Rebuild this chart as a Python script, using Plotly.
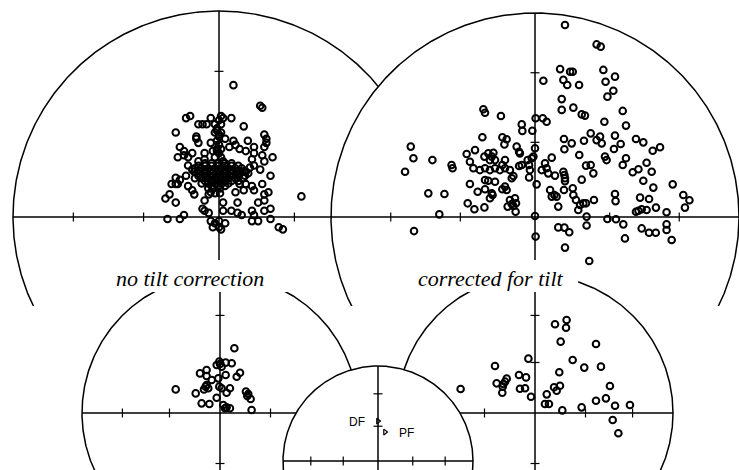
import numpy as np
import plotly.graph_objects as go

W, H = 739, 470

# Equal-area net: tick marks at these inclinations (degrees)
tick_incl = [60, 30]

# Directions, as equal-area (east, north) coordinates, primitive radius = 1
tl_points = [
    (0.07, 0.64), (0.20, 0.54), (0.21, 0.53), (-0.16, 0.48), (-0.14, 0.49), (-0.04, 0.48), (0.01, 0.49),
    (0.02, 0.48), (0.06, 0.48), (-0.10, 0.45), (-0.08, 0.45), (-0.06, 0.45), (0.12, 0.44), (-0.21, 0.41),
    (-0.01, 0.42), (0.00, 0.40), (-0.01, 0.37), (0.00, 0.35), (-0.11, 0.39), (-0.10, 0.36), (-0.11, 0.38),
    (-0.04, 0.36), (0.03, 0.38), (0.07, 0.37), (0.08, 0.35), (0.14, 0.37), (0.22, 0.40), (0.23, 0.38),
    (0.23, 0.36), (0.22, 0.34), (-0.19, 0.34), (-0.17, 0.32), (-0.13, 0.31), (-0.07, 0.31), (-0.03, 0.32),
    (0.01, 0.33), (0.05, 0.34), (0.10, 0.33), (0.13, 0.32), (0.17, 0.34), (0.17, 0.31), (-0.20, 0.29),
    (-0.17, 0.30), (-0.15, 0.29), (-0.10, 0.27), (-0.07, 0.28), (0.21, 0.30), (0.26, 0.29), (0.16, 0.28),
    (0.17, 0.25), (0.22, 0.27), (-0.15, 0.25), (-0.13, 0.23), (-0.16, 0.20), (-0.12, 0.22), (0.09, 0.21),
    (0.13, 0.22), (0.15, 0.24), (-0.21, 0.19), (-0.19, 0.18), (-0.21, 0.16), (0.20, 0.23), (0.25, 0.20),
    (-0.23, 0.16), (-0.20, 0.16), (-0.15, 0.15), (-0.13, 0.13), (-0.12, 0.11), (0.10, 0.16), (0.13, 0.16),
    (0.16, 0.15), (0.17, 0.13), (0.22, 0.11), (0.24, 0.12), (0.21, 0.16), (-0.24, 0.11), (-0.26, 0.09),
    (-0.21, 0.07), (-0.05, 0.11), (-0.07, 0.08), (-0.04, 0.12), (0.08, 0.12), (0.09, 0.07), (0.12, 0.13),
    (0.22, 0.08), (0.19, 0.07), (0.02, 0.07), (0.02, 0.03), (-0.08, 0.04), (-0.07, 0.03), (-0.05, 0.02),
    (0.06, 0.03), (0.09, 0.02), (0.11, 0.01), (0.16, 0.03), (0.17, 0.01), (0.22, 0.03), (0.25, 0.04),
    (-0.25, -0.01), (-0.19, -0.01), (-0.17, 0.01), (-0.04, -0.02), (-0.02, -0.03), (0.00, -0.02),
    (0.03, -0.03), (0.00, -0.05), (0.01, -0.06), (-0.03, -0.05), (0.16, -0.02), (0.19, -0.02),
    (0.25, -0.01), (0.29, -0.05), (0.31, -0.06), (0.40, 0.10),
    (-0.068, 0.261), (-0.036, 0.261), (-0.003, 0.261), (0.029, 0.261), (0.061, 0.261),
    (-0.117, 0.236), (-0.084, 0.236), (-0.052, 0.236), (-0.019, 0.236), (0.013, 0.236), (0.045, 0.236),
    (0.078, 0.236), (0.110, 0.236),
    (-0.100, 0.212), (-0.068, 0.212), (-0.036, 0.212), (-0.003, 0.212), (0.029, 0.212), (0.061, 0.212),
    (0.102, 0.212), (0.142, 0.212),
    (-0.117, 0.188), (-0.084, 0.188), (-0.052, 0.188), (-0.019, 0.188), (0.013, 0.188), (0.045, 0.188),
    (0.078, 0.188), (0.118, 0.188),
    (-0.084, 0.163), (-0.052, 0.163), (-0.019, 0.163), (0.013, 0.163), (0.045, 0.163),
    (-0.052, 0.139), (-0.028, 0.139), (0.005, 0.139), (-0.019, 0.115), (0.005, 0.115),
    (-0.02, 0.45), (0.01, 0.45), (-0.02, 0.41), (0.01, 0.41), (-0.01, 0.32), (0.01, 0.29), (-0.02, 0.29),
    (-0.100, 0.249), (-0.068, 0.249), (-0.036, 0.249), (-0.003, 0.249), (0.029, 0.249), (0.061, 0.249),
    (0.094, 0.249),
    (-0.100, 0.224), (-0.068, 0.224), (-0.036, 0.224), (-0.003, 0.224), (0.029, 0.224), (0.061, 0.224),
    (0.094, 0.224), (0.126, 0.224),
    (-0.100, 0.200), (-0.068, 0.200), (-0.036, 0.200), (-0.003, 0.200), (0.029, 0.200), (0.061, 0.200),
    (0.094, 0.200), (0.126, 0.200),
    (-0.068, 0.175), (-0.036, 0.175), (-0.003, 0.175), (0.029, 0.175), (0.061, 0.175), (0.094, 0.175),
    (-0.036, 0.151), (-0.003, 0.151), (0.029, 0.151),
    (0.00, 0.47), (-0.01, 0.43), (0.00, 0.39), (-0.01, 0.33), (0.00, 0.31), (0.02, 0.27),
]

tr_points = [
    (0.147, 0.941), (0.302, 0.846), (0.322, 0.835), (0.123, 0.725), (0.172, 0.712), (0.185, 0.712),
    (0.335, 0.721), (0.392, 0.688), (0.139, 0.672), (0.158, 0.647), (0.216, 0.647), (0.346, 0.663),
    (0.384, 0.619), (0.355, 0.590), (0.131, 0.578), (0.131, 0.525), (0.188, 0.536), (0.229, 0.503),
    (0.245, 0.497), (0.430, 0.520), (0.340, 0.467), (0.446, 0.448), (0.142, 0.382), (0.180, 0.361),
    (0.144, 0.332), (0.273, 0.410), (0.240, 0.374), (0.302, 0.377), (0.319, 0.394), (0.327, 0.361),
    (0.392, 0.399), (0.420, 0.358), (0.387, 0.333), (0.495, 0.382), (0.531, 0.366), (0.577, 0.325),
    (0.613, 0.342), (0.082, 0.291), (0.217, 0.304), (0.250, 0.252), (0.273, 0.255), (0.286, 0.214),
    (0.343, 0.296), (0.351, 0.279), (0.446, 0.288), (0.430, 0.255), (0.547, 0.266), (0.507, 0.234),
    (0.479, 0.219), (0.572, 0.222), (0.531, 0.178), (0.580, 0.144), (0.675, 0.160), (0.139, 0.222),
    (0.144, 0.206), (0.147, 0.190), (0.147, 0.176), (0.098, 0.203), (0.229, 0.183), (0.142, 0.132),
    (0.185, 0.141), (0.188, 0.108), (0.201, 0.083), (0.221, 0.059), (0.237, 0.067), (0.250, 0.067),
    (0.289, 0.083), (0.212, 0.034), (0.392, 0.113), (0.395, 0.078), (0.074, 0.132), (0.082, 0.100),
    (0.106, 0.100), (0.114, 0.051), (0.095, 0.108), (0.515, 0.095), (0.559, 0.088), (0.593, 0.046),
    (0.495, 0.026), (0.507, 0.031), (0.523, 0.038), (0.547, 0.034), (0.645, 0.023), (0.727, 0.108),
    (0.757, 0.082), (0.735, 0.046), (0.253, 0.002), (0.253, -0.042), (0.355, -0.010), (0.397, -0.011),
    (0.433, -0.036), (0.114, -0.051), (0.144, -0.052), (0.168, -0.075), (0.147, -0.150), (0.441, -0.105),
    (0.523, -0.056), (0.559, -0.077), (0.592, -0.077), (0.645, -0.036), (0.645, -0.064), (0.670, -0.113),
    (0.266, -0.216), (0.041, 0.668),
    (-0.253, 0.528), (-0.245, 0.511), (-0.167, 0.495), (-0.065, 0.454), (-0.062, 0.422), (0.003, 0.484),
    (0.038, 0.484), (0.057, 0.467), (-0.013, 0.423), (-0.258, 0.391), (-0.160, 0.391), (-0.139, 0.381),
    (-0.150, 0.356), (-0.090, 0.345), (-0.078, 0.320), (-0.074, 0.312), (0.000, 0.337), (-0.016, 0.288),
    (-0.008, 0.296), (-0.609, 0.345), (-0.596, 0.288), (-0.503, 0.279), (-0.637, 0.222), (-0.409, 0.255),
    (-0.404, 0.239), (-0.335, 0.309), (-0.319, 0.271), (-0.294, 0.328), (-0.248, 0.296), (-0.229, 0.312),
    (-0.204, 0.315), (-0.212, 0.296), (-0.196, 0.279), (-0.221, 0.279), (-0.302, 0.239), (-0.270, 0.230),
    (-0.245, 0.239), (-0.221, 0.230), (-0.196, 0.239), (-0.172, 0.230), (-0.147, 0.239), (-0.123, 0.230),
    (-0.245, 0.181), (-0.229, 0.178), (-0.196, 0.173), (-0.147, 0.279), (-0.160, 0.255), (-0.106, 0.201),
    (-0.114, 0.190), (-0.078, 0.250), (-0.065, 0.255), (-0.036, 0.279), (-0.029, 0.255), (-0.025, 0.230),
    (-0.029, 0.194), (0.008, 0.160), (-0.319, 0.162), (-0.281, 0.124), (-0.245, 0.136), (-0.212, 0.116),
    (-0.221, 0.092), (-0.208, 0.108), (-0.330, 0.067), (-0.297, 0.038), (-0.248, 0.047), (-0.160, 0.136),
    (-0.147, 0.149), (-0.139, 0.132), (-0.123, 0.083), (-0.114, 0.064), (-0.098, 0.092), (-0.093, 0.067),
    (-0.134, 0.051), (-0.106, 0.054), (-0.095, 0.026), (0.000, 0.005), (0.003, -0.096), (-0.523, 0.116),
    (-0.444, 0.113), (-0.469, 0.013), (-0.593, -0.069), (0.057, 0.239), (0.033, 0.230), (0.065, 0.214),
    (0.049, 0.263),
]

bl_points = [
    (0.104, 0.469), (0.000, 0.355), (-0.024, 0.348), (0.012, 0.336), (-0.005, 0.372), (0.041, 0.365),
    (0.085, 0.360), (-0.145, 0.287), (-0.097, 0.312), (-0.097, 0.268), (-0.060, 0.239), (-0.012, 0.251),
    (0.041, 0.275), (0.121, 0.263), (0.145, 0.292), (-0.321, 0.171), (-0.176, 0.142), (-0.104, 0.191),
    (-0.085, 0.179), (-0.116, 0.171), (-0.097, 0.203), (-0.005, 0.191), (0.012, 0.179), (0.048, 0.147),
    (0.072, 0.179), (-0.024, 0.111), (0.188, 0.155), (0.205, 0.138), (0.198, 0.123), (0.222, 0.101),
    (-0.133, 0.070), (-0.077, 0.065), (0.024, 0.058), (0.036, 0.034), (0.072, 0.034), (0.048, 0.041),
    (0.229, 0.022),
]

br_points = [
    (0.145, 0.643), (0.229, 0.674), (0.225, 0.618), (0.186, 0.517), (0.442, 0.500), (0.273, 0.384),
    (0.357, 0.329), (0.478, 0.336), (-0.048, 0.394), (-0.290, 0.341), (0.176, 0.295), (-0.278, 0.215),
    (-0.234, 0.191), (-0.217, 0.227), (-0.205, 0.249), (-0.229, 0.210), (-0.237, 0.147), (-0.116, 0.275),
    (-0.065, 0.258), (-0.109, 0.176), (-0.072, 0.179), (-0.029, 0.118), (0.138, 0.186), (0.157, 0.162),
    (0.181, 0.198), (0.085, 0.135), (0.072, 0.065), (0.101, 0.065), (0.198, 0.019), (0.338, 0.041),
    (0.442, 0.089), (0.514, 0.106), (0.543, 0.196), (0.580, 0.053), (0.688, 0.058), (0.563, -0.051),
    (0.604, -0.147), (-0.539, 0.174),
]

marker_points = [(0.0, 0.42), (0.074, 0.305)]
marker_labels = ["DF", "PF"]
panel_labels = ["no tilt correction", "corrected for tilt"]

# Layout of the nets on the page (pixel centre, radius, lower clip edge)
nets = [
    dict(cx=219, cy=217, r=206, bottom=306, pts=tl_points),
    dict(cx=535, cy=217, r=204, bottom=306, pts=tr_points),
    dict(cx=220, cy=413, r=138, bottom=470, pts=bl_points),
    dict(cx=535, cy=413, r=138, bottom=470, pts=br_points),
    dict(cx=378, cy=461, r=95, bottom=470, pts=None),
]

tick_r = [np.sqrt(2) * np.sin(np.radians((90 - i) / 2)) for i in tick_incl]

fig = go.Figure()
layout_axes = {}
theta = np.linspace(0, 2 * np.pi, 721)
LW = 1.5

for k, net in enumerate(nets, start=1):
    xa = "x" if k == 1 else f"x{k}"
    ya = "y" if k == 1 else f"y{k}"
    r = net["r"]
    cx, cy = net["cx"], net["cy"]
    layout_axes["xaxis" if k == 1 else f"xaxis{k}"] = dict(
        domain=[0, 1], range=[-cx / r, (W - cx) / r], visible=False, anchor=ya, fixedrange=True)
    layout_axes["yaxis" if k == 1 else f"yaxis{k}"] = dict(
        domain=[1 - net["bottom"] / H, 1], range=[(cy - net["bottom"]) / r, cy / r],
        visible=False, anchor=xa, fixedrange=True)

    # primitive circle, white filled (hides what lies beneath)
    fig.add_trace(go.Scatter(x=np.cos(theta), y=np.sin(theta), mode="lines", fill="toself",
                             fillcolor="white", line=dict(color="black", width=LW),
                             xaxis=xa, yaxis=ya, hoverinfo="skip", showlegend=False))
    # axes
    fig.add_trace(go.Scatter(x=[-1, 1, None, 0, 0], y=[0, 0, None, 1, -1], mode="lines",
                             line=dict(color="black", width=LW), xaxis=xa, yaxis=ya,
                             hoverinfo="skip", showlegend=False))
    # tick crosses
    t = 4.5 / r
    tx, ty = [], []
    for tr in tick_r:
        for s in (-1, 1):
            tx += [s * tr, s * tr, None, -t, t, None]
            ty += [-t, t, None, s * tr, s * tr, None]
    fig.add_trace(go.Scatter(x=tx, y=ty, mode="lines", line=dict(color="black", width=1.2),
                             xaxis=xa, yaxis=ya, hoverinfo="skip", showlegend=False))
    if net["pts"]:
        e, n = zip(*net["pts"])
        fig.add_trace(go.Scatter(x=e, y=n, mode="markers", xaxis=xa, yaxis=ya,
                                 marker=dict(symbol="circle-open", size=6.6, color="black",
                                             line=dict(width=2.0, color="black")),
                                 hoverinfo="skip", showlegend=False))
    else:
        e, n = zip(*marker_points)
        fig.add_trace(go.Scatter(x=e, y=n, mode="markers", xaxis=xa, yaxis=ya,
                                 marker=dict(symbol="triangle-right-open", size=5, color="black",
                                             line=dict(width=1.2, color="black")),
                                 hoverinfo="skip", showlegend=False))

def px(x):
    return x / W

def py(y):
    return 1 - y / H

shapes = [
    dict(type="rect", xref="paper", yref="paper", x0=px(105), x1=px(288), y0=py(292), y1=py(260),
         fillcolor="white", line=dict(width=0), layer="above"),
    dict(type="rect", xref="paper", yref="paper", x0=px(405), x1=px(578), y0=py(292), y1=py(260),
         fillcolor="white", line=dict(width=0), layer="above"),
]

SERIF = "Liberation Serif, 'Times New Roman', Times, serif"
SANS = "Liberation Sans, Arial, Helvetica, sans-serif"

def label(text, x, y, family, size):
    return dict(text=text, x=px(x), y=py(y), xref="paper", yref="paper", xanchor="center",
                yanchor="middle", showarrow=False, font=dict(family=family, size=size, color="black"))

annotations = [
    label(f"<i>{panel_labels[0]}</i>", 190, 278, SERIF, 22),
    label(f"<i>{panel_labels[1]}</i>", 490, 278, SERIF, 22),
    label(marker_labels[0], 357, 422, SANS, 12),
    label(marker_labels[1], 406, 433, SANS, 12),
]

fig.update_layout(
    width=W, height=H, margin=dict(l=0, r=0, t=0, b=0),
    paper_bgcolor="white", plot_bgcolor="rgba(0,0,0,0)",
    showlegend=False, hovermode=False,
    shapes=shapes, annotations=annotations, **layout_axes)

fig.write_html("out.html", config={"displayModeBar": False, "staticPlot": True})
